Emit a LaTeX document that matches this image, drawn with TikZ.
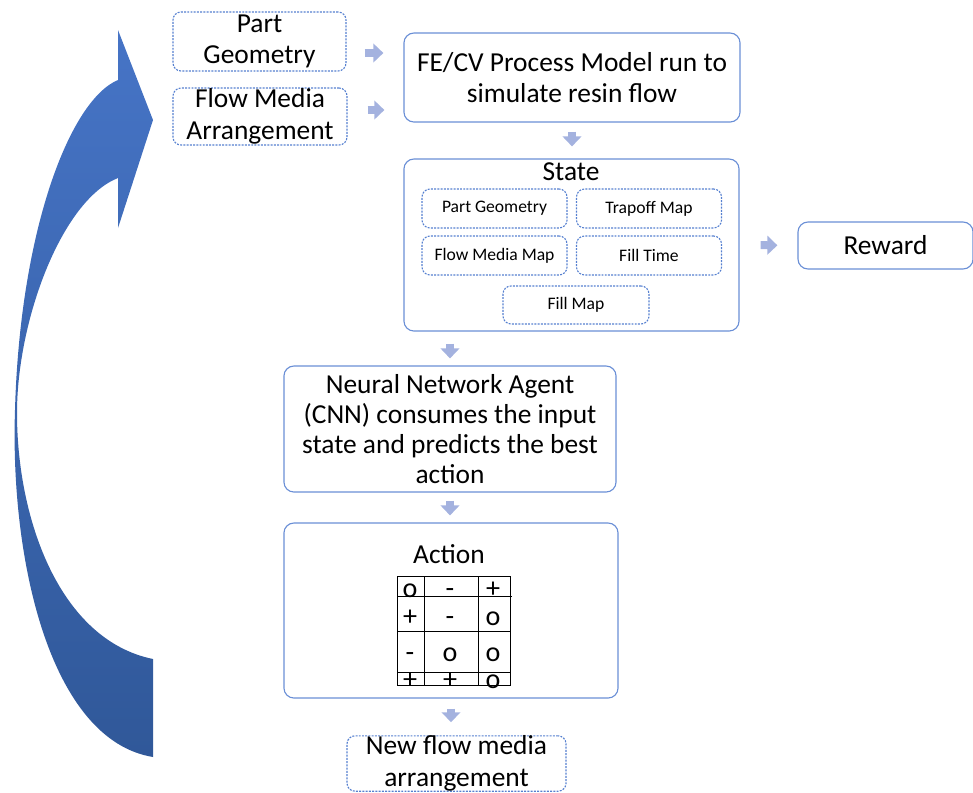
\documentclass[tikz,border=0pt]{standalone}
\usepackage{fontspec}
\setmainfont{Carlito}
\usetikzlibrary{arrows.meta, calc}
\definecolor{boxblue}{RGB}{106,143,214}
\definecolor{dotblue}{RGB}{86,128,208}
\definecolor{arrblue}{RGB}{164,178,223}
\definecolor{bigtop}{RGB}{70,116,198}
\definecolor{bigbot}{RGB}{48,88,153}

\begin{document}
\begin{tikzpicture}[x=0.025cm, y=-0.025cm, line width=0.8pt,
  mainbox/.style={draw=boxblue, rounded corners=0.25cm, align=center, inner sep=0pt,
    font=\fontsize{19.5}{21.5}\selectfont},
  dotbox/.style={draw=dotblue, dash pattern=on 1.4pt off 0.9pt, rounded corners=0.2cm,
    align=center, inner sep=0pt, font=\fontsize{19.5}{22.5}\selectfont},
  smallbox/.style={dotbox, minimum width=3.625cm, minimum height=0.975cm,
    font=\fontsize{12.5}{14}\selectfont},
  blockarr/.style={draw=arrblue, line width=0.2cm, -{Triangle[length=0.25cm, width=0.46cm]}},
  gridsym/.style={anchor=base, inner sep=0pt, font=\fontsize{20}{22}\selectfont}]
  \useasboundingbox (0,0) rectangle (973,792);
  % flecha grande de retorno
  \shade[top color=bigtop, bottom color=bigbot]
    (153,757) .. controls (50,740) and (10,560) .. (15,410)
    .. controls (20,230) and (70,100) .. (118,80)
    -- (118,30) -- (153,120) -- (118,228) -- (118,178)
    .. controls (62,200) and (17,320) .. (17,413)
    .. controls (17,520) and (60,640) .. (153,659) -- cycle;
  % entradas
  \node[dotbox, minimum width=4.325cm, minimum height=1.475cm] (pg) at (259.5,41.5) {Part\\Geometry};
  \node[dotbox, minimum width=4.35cm, minimum height=1.425cm] (fm) at (260,116.5) {Flow Media\\Arrangement};
  \node[mainbox, minimum width=8.4cm, minimum height=2.225cm] (fecv) at (572,77.5) {FE/CV Process Model run to\\simulate resin flow};
  % estado
  \node[mainbox, minimum width=8.375cm, minimum height=4.3cm] (state) at (571.5,245) {};
  \node[inner sep=0pt, font=\fontsize{19.5}{21.5}\selectfont] (statetitle) at (571,172) {State};
  \node[smallbox] (pgeo) at (494.5,208.5) {Part Geometry};
  \node[smallbox] (trap) at (649,208.5) {Trapoff Map};
  \node[smallbox] (fmmap) at (494.5,255.5) {Flow Media Map};
  \node[smallbox] (ftime) at (649,255.5) {Fill Time};
  \node[smallbox, minimum width=3.65cm, minimum height=0.95cm] (fmap) at (576,305) {Fill Map};
  \node[mainbox, minimum width=4.375cm, minimum height=1.175cm] (reward) at (885.5,245.5) {Reward};
  % agente y accion
  \node[mainbox, minimum width=8.3cm, minimum height=3.15cm] (nn) at (450,429)
    {Neural Network Agent\\(CNN) consumes the input\\state and predicts the best\\action};
  \node[mainbox, minimum width=8.35cm, minimum height=4.375cm] (action) at (451,610.5) {};
  \node[inner sep=0pt, font=\fontsize{19.5}{21.5}\selectfont] (actiontitle) at (449,554) {Action};
  \node[dotbox, minimum width=5.475cm, minimum height=1.325cm] (new) at (456.5,763.5) {New flow media\\arrangement};
  % rejilla de la accion
  \draw[line width=0.6pt] (397,576) rectangle (510,685);
  \foreach \gx in {424,478} \draw[line width=0.6pt] (\gx,576) -- (\gx,685);
  \draw[line width=0.6pt] (397,596) -- (512,596);
  \foreach \gy in {631,672} \draw[line width=0.6pt] (397,\gy) -- (510,\gy);
  \foreach \sa/\sb/\sc/\by in {o/-/+/597, +/-/o/625, -/o/o/661, +/+/o/688} {
    \node[gridsym] at (410,\by) {\sa};
    \node[gridsym] at (450,\by) {\sb};
    \node[gridsym] at (493,\by) {\sc};
  }
  % flechas
  \coordinate (pgout) at ($(pg.east)+(0,11.5)$);
  \coordinate (fmout) at ($(fm.east)+(0,-6.5)$);
  \draw[blockarr, shorten <=0.45cm, shorten >=0.5cm] (pgout) -- (pgout -| fecv.west);
  \draw[blockarr, shorten <=0.5cm, shorten >=0.475cm] (fmout) -- (fmout -| fecv.west);
  \draw[blockarr, shorten <=0.225cm, shorten >=0.3cm] (fecv.south) -- (fecv.south |- state.north);
  \draw[blockarr, shorten <=0.525cm, shorten >=0.5cm] (state.east) -- (reward.west);
  \draw[blockarr, shorten <=0.3cm, shorten >=0.175cm] (state.south -| nn.north) -- (nn.north);
  \draw[blockarr, shorten <=0.2cm, shorten >=0.175cm] (nn.south) -- (nn.south |- action.north);
  \draw[blockarr, shorten <=0.25cm, shorten >=0.325cm] (action.south) -- (action.south |- new.north);
\end{tikzpicture}
\end{document}
